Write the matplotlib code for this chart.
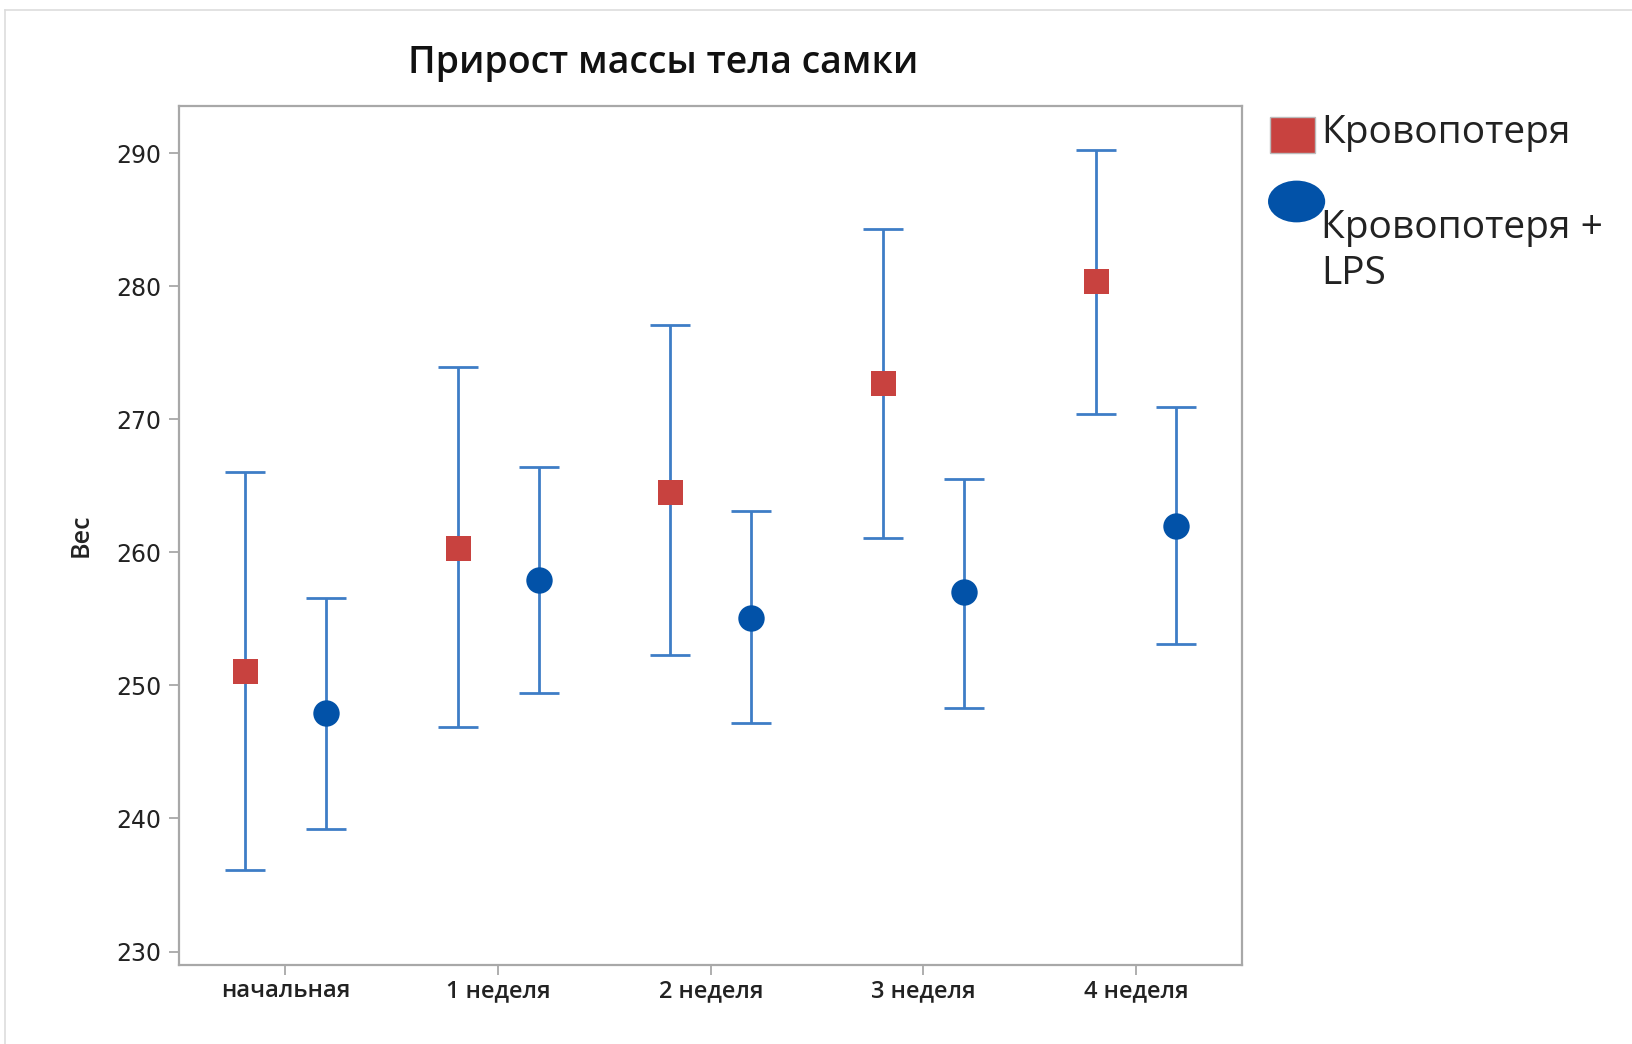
import matplotlib
matplotlib.use('Agg')
import matplotlib.pyplot as plt
from matplotlib.lines import Line2D
from matplotlib.patches import Ellipse, Rectangle
import numpy as np

# данные
groups = ['начальная', '1 неделя', '2 неделя', '3 неделя', '4 неделя']

blood_mean = [251.1, 260.3, 264.5, 272.7, 280.4]
blood_low = [236.1, 246.9, 252.3, 261.1, 270.4]
blood_high = [266.0, 273.9, 277.1, 284.3, 290.2]

lps_mean = [247.9, 257.9, 255.1, 257.0, 262.0]
lps_low = [239.2, 249.4, 247.2, 248.3, 253.1]
lps_high = [256.6, 266.4, 263.1, 265.5, 270.9]

yticks = [230, 240, 250, 260, 270, 280, 290]

red = '#C8423F'
blue = '#0252A8'
bar_col = '#3E7DC6'
grey = '#A8A8A8'

fig = plt.figure(figsize=(16.33, 10.44), dpi=100)
ax = fig.add_axes([0.1097, 0.0758, 0.6511, 0.8222])

x = np.arange(len(groups))
off = 0.19

def draw(xs, m, lo, hi, marker, col, ms):
    m = np.array(m)
    err = [m - np.array(lo), np.array(hi) - m]
    ax.errorbar(xs, m, yerr=err, fmt='none', ecolor=bar_col, elinewidth=2.0,
                capsize=14.5, capthick=2.0, zorder=2)
    ax.plot(xs, m, linestyle='none', marker=marker, color=col, markersize=ms,
            markeredgewidth=0, zorder=3)

draw(x - off, blood_mean, blood_low, blood_high, 's', red, 18)
draw(x + off, lps_mean, lps_low, lps_high, 'o', blue, 19)

ax.set_xlim(-0.5, 4.5)
ax.set_ylim(229, 293.5)
ax.set_xticks(x)
ax.set_xticklabels(groups, fontfamily='Open Sans', fontsize=17, fontweight='semibold',
                   color='#222222')
ax.set_yticks(yticks)
ax.set_yticklabels([str(v) for v in yticks], fontfamily='DejaVu Sans', fontsize=17,
                   color='#222222')
ax.tick_params(axis='both', colors=grey, length=7, width=1.3, labelcolor='#222222', pad=6)
ax.tick_params(axis='x', pad=3)
for s in ax.spines.values():
    s.set_color(grey)
    s.set_linewidth(1.6)

ax.set_ylabel('Вес', fontfamily='Open Sans', fontsize=18, fontweight='semibold',
              color='#222222', labelpad=16)
fig.text(0.406, 0.94, 'Прирост массы тела самки', ha='center', va='center',
         fontfamily='Open Sans', fontsize=27, fontweight='semibold', color='#111111')

# легенда справа (как в исходнике: маркер над подписью второй группы)
fig.add_artist(Rectangle((0.778, 0.853), 0.027, 0.035, transform=fig.transFigure,
                         facecolor=red, edgecolor='#BBBBBB', lw=1.0))
fig.add_artist(Ellipse((0.794, 0.807), 0.035, 0.040, transform=fig.transFigure,
                       facecolor=blue, edgecolor='none'))
leg_font = dict(fontfamily='Open Sans', fontsize=28, color='#222222', va='center',
                ha='left')
fig.text(0.809, 0.873, 'Кровопотеря', **leg_font)
fig.text(0.809, 0.782, 'Кровопотеря +', **leg_font)
fig.text(0.809, 0.738, 'LPS', **leg_font)

# серая рамка вокруг рисунка
fig.add_artist(Line2D([0.003, 1.0], [0.990, 0.990], color='#DDDDDD', lw=1.2))
fig.add_artist(Line2D([0.003, 0.003], [0.0, 0.990], color='#DDDDDD', lw=1.2))

fig.savefig('out.png', dpi=100)
